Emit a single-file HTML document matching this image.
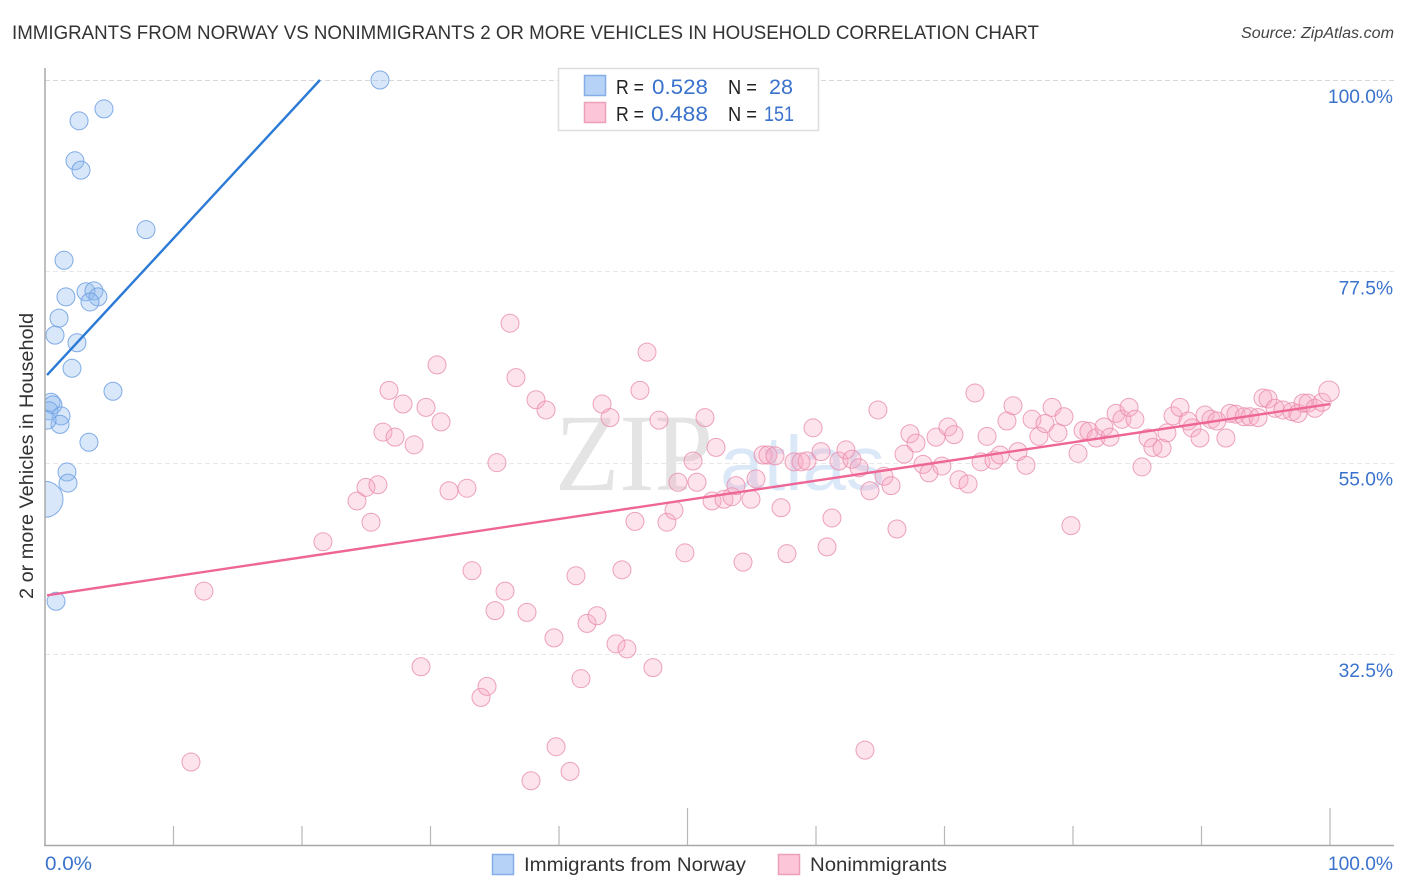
<!DOCTYPE html>
<html lang="en">
<head>
<meta charset="utf-8">
<title>Immigrants from Norway vs Nonimmigrants correlation chart</title>
<style>
html,body{margin:0;padding:0;background:#fff;}
svg{display:block;font-family:"Liberation Sans",sans-serif;}
</style>
</head>
<body>
<svg id="chart" xmlns="http://www.w3.org/2000/svg" width="1406" height="892" viewBox="0 0 1406 892">
  <defs>
    <clipPath id="plot-clip"><rect x="45" y="0" width="1361" height="892"/></clipPath>
  </defs>
  <rect width="1406" height="892" fill="#fff"/>
  <text x="12" y="39" font-size="19" fill="#333" textLength="1027" lengthAdjust="spacingAndGlyphs">IMMIGRANTS FROM NORWAY VS NONIMMIGRANTS 2 OR MORE VEHICLES IN HOUSEHOLD CORRELATION CHART</text>
  <text x="1241" y="38" font-size="15.5" font-style="italic" fill="#444" textLength="153" lengthAdjust="spacingAndGlyphs">Source: ZipAtlas.com</text>
  <text transform="translate(33 456) rotate(-90)" font-size="19" fill="#333" text-anchor="middle" textLength="286" lengthAdjust="spacingAndGlyphs">2 or more Vehicles in Household</text>
  <g id="grid"></g>
  <g>
    <text x="555" y="490" font-family="'Liberation Serif',serif" font-size="110" fill="#e4e4e4" textLength="158" lengthAdjust="spacingAndGlyphs">ZIP</text>
    <text x="720" y="490" font-size="77" fill="#dbe8f8" textLength="165" lengthAdjust="spacingAndGlyphs">atlas</text>
  </g>
  <g id="points" clip-path="url(#plot-clip)"></g>
  <g id="trends"></g>
  <g id="axes"></g>
  <g>
    <rect x="558.5" y="68.5" width="260" height="62" fill="#fff" stroke="#ddd" stroke-width="1.5"/>
    <rect x="584.5" y="75.5" width="21" height="20" fill="#b7d2f7" stroke="#85aee6" stroke-width="1.5"/>
    <rect x="584.5" y="102.5" width="21" height="20" fill="#fcc6d8" stroke="#eea0bb" stroke-width="1.5"/>
    <g font-size="20" fill="#222">
      <text x="616" y="94" textLength="28" lengthAdjust="spacingAndGlyphs">R =</text>
      <text x="728" y="94" textLength="29" lengthAdjust="spacingAndGlyphs">N =</text>
      <text x="616" y="121" textLength="28" lengthAdjust="spacingAndGlyphs">R =</text>
      <text x="728" y="121" textLength="29" lengthAdjust="spacingAndGlyphs">N =</text>
    </g>
    <g font-size="21" fill="#3a72cc">
      <text x="652" y="94" textLength="56" lengthAdjust="spacingAndGlyphs">0.528</text>
      <text x="769" y="94" textLength="24" lengthAdjust="spacingAndGlyphs">28</text>
      <text x="651" y="121" textLength="57" lengthAdjust="spacingAndGlyphs">0.488</text>
      <text x="764" y="121" textLength="30" lengthAdjust="spacingAndGlyphs">151</text>
    </g>
  </g>
  <g>
    <rect x="492.5" y="854.5" width="21" height="20" fill="#b7d2f7" stroke="#85aee6" stroke-width="1.5"/>
    <text x="524" y="871" font-size="19" fill="#333" textLength="222" lengthAdjust="spacingAndGlyphs">Immigrants from Norway</text>
    <rect x="778.5" y="854.5" width="21" height="20" fill="#fcc6d8" stroke="#eea0bb" stroke-width="1.5"/>
    <text x="810" y="871" font-size="19" fill="#333" textLength="137" lengthAdjust="spacingAndGlyphs">Nonimmigrants</text>
  </g>
</svg>
<script>
// Chart values (percent)
const yTickValues = [100, 77.5, 55, 32.5];
const yTickLabels = ["100.0%", "77.5%", "55.0%", "32.5%"];
const xTickValues = [10, 20, 30, 40, 50, 60, 70, 80, 90, 100];
const xMajorTicks = [50, 100];
const xEndLabels = ["0.0%", "100.0%"];

const norwayX = [26.07,4.59,2.65,2.33,2.80,7.86,1.48,1.63,3.19,3.81,4.12,3.50,1.09,0.78,2.49,2.10,5.29,0.47,0.62,0.31,1.25,1.17,0.16,3.42,1.71,1.79,0.00,0.86];
const norwayY = [100,96.6,95.2,90.5,89.4,82.4,78.8,74.5,75.1,75.2,74.5,73.9,72.0,70.0,69.1,66.1,63.4,62.1,61.8,61.1,60.5,59.5,60.0,57.4,53.9,52.6,50.7,38.7];
const norwayWeight = [1,1,1,1,1,1,1,1,1,1,1,1,1,1,1,1,1,1,1,1,1,1,1,1,1,1,4,1];

const nonimmigrantX = [11.36,12.37,21.63,24.28,24.98,25.37,25.91,26.30,26.77,27.24,27.86,28.72,29.26,29.65,30.51,30.82,31.44,32.84,33.23,33.93,34.40,35.02,35.17,35.80,36.19,36.65,37.51,37.82,38.21,38.99,39.61,39.77,40.86,41.32,41.71,42.18,42.96,43.35,43.97,44.44,44.90,45.29,45.91,46.30,46.85,47.31,47.78,48.40,48.95,49.26,49.80,50.43,50.74,51.36,51.91,52.22,52.84,53.46,53.77,54.32,54.94,55.33,55.88,56.26,56.81,57.28,57.74,58.29,58.83,59.30,59.77,60.39,60.86,61.24,61.79,62.33,62.80,63.35,63.81,64.20,64.82,65.29,65.84,66.30,66.85,67.31,67.78,68.33,68.79,69.34,69.80,70.27,70.74,71.13,71.83,72.37,72.84,73.31,73.85,74.32,74.86,75.33,75.72,76.34,76.81,77.35,77.82,78.37,78.83,79.30,79.84,80.39,80.78,81.24,81.79,82.41,82.88,83.35,83.81,84.36,84.82,85.37,85.84,86.22,86.93,87.31,87.78,88.33,88.95,89.26,89.88,90.27,90.74,91.20,91.90,92.22,92.68,93.31,93.77,94.40,94.78,95.18,95.72,96.34,97.04,97.51,97.90,98.29,98.83,99.38,99.92];
const nonimmigrantY = [19.8,39.9,45.7,50.5,52.1,48.0,52.4,58.6,63.5,58.0,61.9,57.1,31.0,61.5,66.5,59.8,51.7,52.0,42.3,27.4,28.7,37.6,55.0,39.9,71.4,65.0,37.4,17.6,62.4,61.2,34.4,21.6,18.7,41.7,29.6,36.1,37.0,61.9,60.3,33.7,42.4,33.1,48.1,63.5,68.0,30.9,60.0,48.0,49.4,52.7,44.4,55.2,52.7,60.3,50.5,56.8,50.7,51.0,52.3,43.3,50.7,53.1,55.9,55.9,55.8,49.7,44.3,55.1,55.1,55.2,59.1,56.3,45.1,48.5,55.2,56.5,55.4,54.4,21.2,51.7,61.2,53.4,52.3,47.2,56.0,58.4,57.3,54.8,53.8,58.0,54.6,59.2,58.3,53.0,52.5,63.2,55.1,58.1,55.3,55.9,59.9,61.7,56.3,54.7,60.1,58.1,59.6,61.5,58.5,60.4,47.6,56.1,58.8,58.7,57.9,59.2,58.0,60.8,60.1,61.5,60.1,54.5,57.9,56.8,56.7,58.5,60.5,61.5,59.9,59.1,57.9,60.6,60.1,59.9,57.9,60.8,60.7,60.4,60.4,60.3,62.6,62.5,61.4,61.2,61.0,60.8,62.0,62.0,61.4,62.1,63.4];

const norwayTrendX = [0.16, 21.40];
const norwayTrendY = [65.3, 100];
const nonimmigrantTrendX = [0.16, 100];
const nonimmigrantTrendY = [39.4, 61.9];

// Axis functions
function xScale(v) { return 45 + v * 12.85; }
function yScale(v) { return 80 + (100 - v) * 8.504; }
function radius(w) { return 9 * Math.sqrt(w); }

const NS = "http://www.w3.org/2000/svg";
function make(tag, parent, attrs) {
  const el = document.createElementNS(NS, tag);
  for (const k in attrs) el.setAttribute(k, attrs[k]);
  parent.appendChild(el);
  return el;
}

const grid = document.getElementById("grid");
const axes = document.getElementById("axes");
const points = document.getElementById("points");
const trends = document.getElementById("trends");

yTickValues.forEach(function (v, i) {
  const gy = Math.round(yScale(v)) + 0.5;
  const line = make("line", grid, {x1: 45, x2: 1394, y1: gy, y2: gy, stroke: i === 0 ? "#d8d8d8" : "#e8e8e8", "stroke-width": 1, "stroke-dasharray": "5 3"});
  
  
  const label = make("text", axes, {x: 1393, y: yScale(v) + 23, "font-size": 19.2, fill: "#3a72cc", "text-anchor": "end"});
  label.textContent = yTickLabels[i];
  
  
});

const yAxis = make("line", axes, {x1: 45, x2: 45, y1: 68, y2: 846, stroke: "#a8a8a8", "stroke-width": 1.5});


const xAxis = make("line", axes, {x1: 44, x2: 1394, y1: 845.5, y2: 845.5, stroke: "#a8a8a8", "stroke-width": 1.5});



xTickValues.forEach(function (v) {
  const major = xMajorTicks.indexOf(v) >= 0;
  const tick = make("line", axes, {x1: xScale(v), x2: xScale(v), y1: major ? 808 : 826, y2: 845, stroke: "#b8b8b8", "stroke-width": 1.2});
  
  
});

const xLabelLeft = make("text", axes, {x: 45, y: 870, "font-size": 19.2, fill: "#3a72cc", textLength: 47, lengthAdjust: "spacingAndGlyphs"});
xLabelLeft.textContent = xEndLabels[0];


const xLabelRight = make("text", axes, {x: 1393, y: 870, "font-size": 19.2, fill: "#3a72cc", "text-anchor": "end"});
xLabelRight.textContent = xEndLabels[1];



nonimmigrantX.forEach(function (v, i) {
  const w = i === nonimmigrantX.length - 1 ? 1.3 : 1;
  const c = make("circle", points, {cx: xScale(v), cy: yScale(nonimmigrantY[i]), r: radius(w), fill: "#f8a8c4", "fill-opacity": 0.32, stroke: "#e98cac", "stroke-opacity": 0.8, "stroke-width": 1});
  
  
});

norwayX.forEach(function (v, i) {
  const c = make("circle", points, {cx: xScale(v), cy: yScale(norwayY[i]), r: radius(norwayWeight[i]), fill: "#8fb9ee", "fill-opacity": 0.35, stroke: "#6d9fe3", "stroke-opacity": 0.85, "stroke-width": 1});
  
  
});

const norwayLine = make("line", trends, {x1: xScale(norwayTrendX[0]), y1: yScale(norwayTrendY[0]), x2: xScale(norwayTrendX[1]), y2: yScale(norwayTrendY[1]), stroke: "#2a7ad6", "stroke-width": 2.4});


const nonimmigrantLine = make("line", trends, {x1: xScale(nonimmigrantTrendX[0]), y1: yScale(nonimmigrantTrendY[0]), x2: xScale(nonimmigrantTrendX[1]), y2: yScale(nonimmigrantTrendY[1]), stroke: "#ee6696", "stroke-width": 2.4});


</script>
</body>
</html>
